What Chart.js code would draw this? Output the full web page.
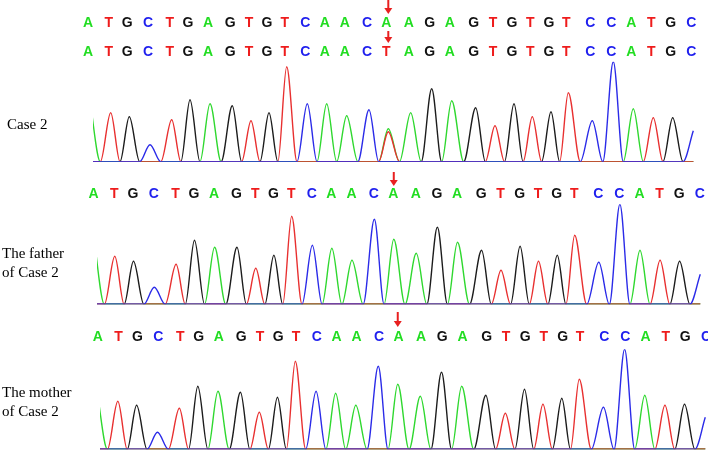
<!DOCTYPE html>
<html>
<head>
<meta charset="utf-8">
<script src="https://cdn.jsdelivr.net/npm/chart.js@4"></script>
<style>
  body { margin: 0; background: #fff; }
  #fig { position: relative; width: 708px; height: 451px; overflow: hidden; }
  canvas { position: absolute; left: 0; }
  .lab { position: absolute; font: 15px "Liberation Serif", "Times New Roman", serif; line-height: 19px; color: #000; white-space: nowrap; }
</style>
</head>
<body>
<div id="fig">
  <canvas id="c1" width="708" height="170" style="top:0"></canvas>
  <canvas id="c2" width="708" height="140" style="top:170px"></canvas>
  <canvas id="c3" width="708" height="141" style="top:310px"></canvas>
  <div class="lab" style="left:7px;top:115px">Case 2</div>
  <div class="lab" style="left:2px;top:244px">The father<br>of Case 2</div>
  <div class="lab" style="left:2px;top:383px">The mother<br>of Case 2</div>
</div>
<script>
// base calls (reference read and the second read of case 2)
const refSeq = 'ATGCTGAGTGTCAACAAGAGTGTGTCCATGC'.split('');
const case2Seq2 = 'ATGCTGAGTGTCAACTAGAGTGTGTCCATGC'.split('');

// peak centres (scan units) and peak heights (% of tallest peak)
const peakPos = [0, 20.7, 39.3, 60, 81.7, 100, 120, 142.3, 161, 179, 196.7, 217.3, 236.7, 256.7, 279, 298.3,
  320.7, 341.7, 361.7, 385.7, 405, 424, 442.3, 461, 478.3, 502.3, 523.3, 543.3, 563.3, 582.7, 603.3];
const case2Heights = [60, 49, 45, 17, 42, 62, 58, 56, 41, 49, 95, 58, 58, 46, 52, 33,
  49, 73, 61, 54, 36, 58, 45, 50, 69, 41, 100, 53, 44, 44, 31];
const fatherHeights = [65, 48, 43, 17, 40, 64, 57, 57, 36, 49, 88, 59, 56, 44, 85, 65,
  51, 77, 62, 54, 34, 58, 43, 49, 69, 42, 100, 54, 44, 43, 30];
const motherHeights = [58, 48, 44, 17, 41, 63, 58, 57, 37, 52, 88, 58, 56, 44, 83, 65,
  53, 77, 63, 54, 36, 60, 45, 51, 70, 42, 100, 54, 44, 45, 32];

// heterozygous site in case 2 (second peak under the A)
const hetIndex = 15;
const case2AltBase = 'T';
const case2AltHeight = 30;

const traceColor = { A: '#2fd82f', C: '#2b2be8', G: '#1c1c1c', T: '#e83030' };
const letterColor = { A: '#22dd22', C: '#1f1fee', G: '#111111', T: '#ee1c1c' };

function traces(heights, alt) {
  return ['C', 'T', 'A', 'G'].map(b => {
    const pts = [];
    peakPos.forEach((p, i) => {
      let y = refSeq[i] === b ? heights[i] : 0;
      if (alt && i === hetIndex && alt.base === b) y = alt.h;
      pts.push({ x: p, y });
      // trace goes back to baseline between two calls
      if (i < peakPos.length - 1) pts.push({ x: (p + peakPos[i + 1]) / 2, y: 0 });
    });
    return {
      data: pts, borderColor: traceColor[b], borderWidth: 1.4,
      pointRadius: 0, cubicInterpolationMode: 'monotone', fill: false
    };
  });
}

function callsPlugin(rows, dx, arrows) {
  return {
    id: 'calls',
    afterDraw(chart) {
      const { ctx } = chart;
      const x = chart.scales.x;
      ctx.save();
      ctx.font = 'bold 14px "Liberation Sans", Arial, sans-serif';
      ctx.textAlign = 'center';
      rows.forEach(r => r.seq.forEach((b, i) => {
        ctx.fillStyle = letterColor[b];
        ctx.fillText(b, x.getPixelForValue(peakPos[i]) + dx, r.y);
      }));
      // red arrows over the variant
      const xa = x.getPixelForValue(peakPos[hetIndex]);
      ctx.strokeStyle = ctx.fillStyle = '#e82020';
      ctx.lineWidth = 2;
      arrows.forEach(([top, tip]) => {
        ctx.beginPath();
        ctx.moveTo(xa, top);
        ctx.lineTo(xa, tip - 5);
        ctx.stroke();
        ctx.beginPath();
        ctx.moveTo(xa - 4, tip - 6);
        ctx.lineTo(xa + 4, tip - 6);
        ctx.lineTo(xa, tip);
        ctx.closePath();
        ctx.fill();
      });
      ctx.restore();
    }
  };
}

function panel(id, heights, alt, pad, rows, dx, arrows) {
  new Chart(document.getElementById(id), {
    type: 'line',
    data: { datasets: traces(heights, alt) },
    options: {
      responsive: false,
      animation: false,
      events: [],
      layout: { padding: pad },
      plugins: { legend: { display: false }, tooltip: { enabled: false } },
      scales: {
        x: { type: 'linear', min: 3, max: 605, display: false },
        y: { min: 0, max: 100, display: false }
      }
    },
    plugins: [callsPlugin(rows, dx, arrows)]
  });
}

panel('c1', case2Heights, { base: case2AltBase, h: case2AltHeight },
  { left: 93, right: 13, top: 61.7, bottom: 8.3 },
  [{ seq: refSeq, y: 26.5 }, { seq: case2Seq2, y: 56 }], -2, [[0, 14], [31, 43]]);
panel('c2', fatherHeights, null,
  { left: 97, right: 6, top: 34.3, bottom: 5.7 },
  [{ seq: refSeq, y: 28 }], -0.5, [[2, 16]]);
panel('c3', motherHeights, null,
  { left: 100, right: 1, top: 39.3, bottom: 1.7 },
  [{ seq: refSeq, y: 31 }], 0.8, [[2, 17]]);
</script>
</body>
</html>
